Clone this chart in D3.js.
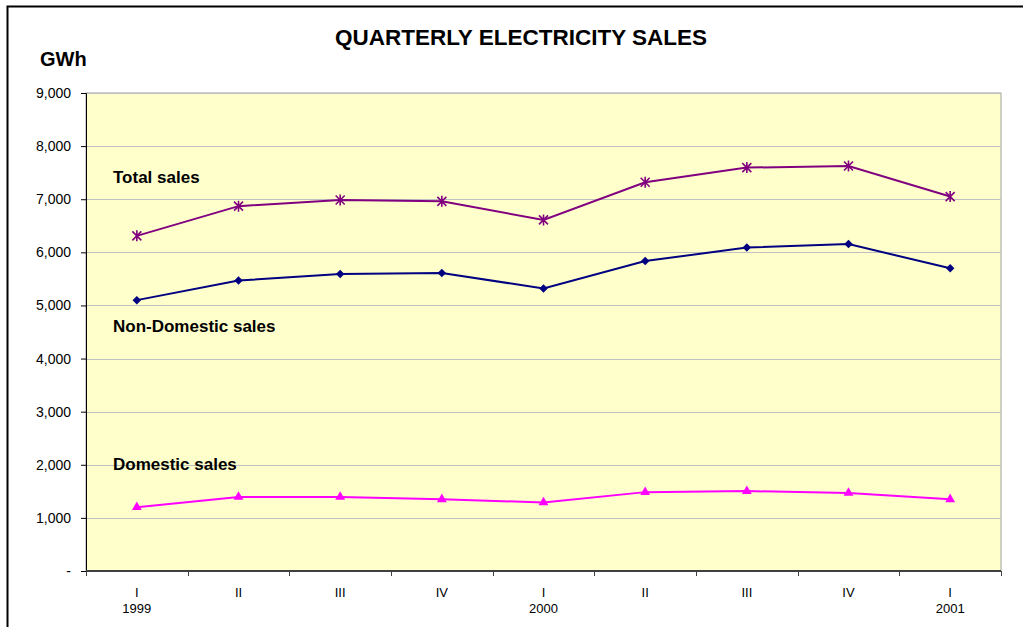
<!DOCTYPE html>
<html>
<head>
<meta charset="utf-8">
<script src="https://cdn.jsdelivr.net/npm/d3@7"></script>
<style>
  body { margin: 0; background: #fff; }
  text { font-family: Arial, "Liberation Sans", sans-serif; }
</style>
</head>
<body>
<div id="chart"></div>
<script>
// quarters 1999 Q1 .. 2001 Q1
const quarters = ['I', 'II', 'III', 'IV', 'I', 'II', 'III', 'IV', 'I'];
const years = ['1999', '', '', '', '2000', '', '', '', '2001'];
const totalSales = [6310, 6870, 6985, 6960, 6610, 7320, 7595, 7625, 7050];
const nonDomesticSales = [5100, 5470, 5590, 5610, 5320, 5835, 6090, 6155, 5700];
const domesticSales = [1200, 1395, 1395, 1350, 1290, 1485, 1505, 1470, 1350];
const yTicks = [0, 1000, 2000, 3000, 4000, 5000, 6000, 7000, 8000, 9000];

const width = 1023, height = 627;
const margin = {left: 86, top: 93, right: 22, bottom: 56};

const svg = d3.select('#chart').append('svg')
    .attr('width', width)
    .attr('height', height);

// outer frame
svg.append('path')
    .attr('d', `M7.5,${height} V6.5 H${width}`)
    .attr('fill', 'none')
    .attr('stroke', '#000')
    .attr('stroke-width', 2);

const x = d3.scaleBand()
    .domain(d3.range(quarters.length))
    .range([margin.left, width - margin.right]);
const y = d3.scaleLinear()
    .domain([0, 9000])
    .range([height - margin.bottom, margin.top]);

const x0 = x.range()[0], x1 = x.range()[1];
const y0 = y(0), y1 = y(9000);

// plot area
svg.append('rect')
    .attr('x', x0).attr('y', y1)
    .attr('width', x1 - x0).attr('height', y0 - y1)
    .attr('fill', '#ffffcc')
    .attr('stroke', '#a0a0a0');

// gridlines
svg.append('g').selectAll('line')
    .data(yTicks.filter(d => d > 0))
    .join('line')
    .attr('x1', x0).attr('x2', x1)
    .attr('y1', d => Math.round(y(d)) + 0.5)
    .attr('y2', d => Math.round(y(d)) + 0.5)
    .attr('stroke', '#c0c0c0');

// y axis
const yAxis = svg.append('g')
    .attr('transform', `translate(${x0},0)`)
    .call(d3.axisLeft(y).tickValues(yTicks).tickSize(5).tickPadding(10)
        .tickFormat(d => d === 0 ? '-' : d3.format(',')(d)));
yAxis.select('.domain').attr('stroke', '#000');
yAxis.selectAll('text').attr('font-size', 14).attr('fill', '#000');

// x axis: ticks at band boundaries
const xg = svg.append('g');
xg.append('line')
    .attr('x1', x0).attr('x2', x1)
    .attr('y1', y0).attr('y2', y0)
    .attr('stroke', '#404040').attr('stroke-width', 2);
xg.selectAll('.tk')
    .data(d3.range(quarters.length + 1))
    .join('line')
    .attr('class', 'tk')
    .attr('x1', i => Math.round(x0 + i * x.bandwidth()) + 0.5)
    .attr('x2', i => Math.round(x0 + i * x.bandwidth()) + 0.5)
    .attr('y1', y0).attr('y2', y0 + 5)
    .attr('stroke', '#404040');
xg.selectAll('.ql')
    .data(quarters)
    .join('text')
    .attr('class', 'ql')
    .attr('x', (d, i) => x(i) + x.bandwidth() / 2)
    .attr('y', y0 + 26)
    .attr('text-anchor', 'middle')
    .attr('font-size', 13)
    .text(d => d);
xg.selectAll('.yl')
    .data(years)
    .join('text')
    .attr('class', 'yl')
    .attr('x', (d, i) => x(i) + x.bandwidth() / 2)
    .attr('y', y0 + 42)
    .attr('text-anchor', 'middle')
    .attr('font-size', 13)
    .text(d => d);

const cx = i => x(i) + x.bandwidth() / 2;
const line = d3.line().x((d, i) => cx(i)).y(d => y(d));

function drawSeries(data, color, symbol) {
    const g = svg.append('g');
    g.append('path')
        .datum(data)
        .attr('d', line)
        .attr('fill', 'none')
        .attr('stroke', color)
        .attr('stroke-width', 2);
    const m = g.selectAll('path.m')
        .data(data)
        .join('path')
        .attr('class', 'm');
    if (symbol === 'star') {
        // asterisk marker: x plus vertical bar
        m.attr('d', (d, i) => {
                const px = cx(i), py = y(d), r = 4.5;
                return `M${px - r},${py - r}L${px + r},${py + r}M${px - r},${py + r}L${px + r},${py - r}` +
                    `M${px},${py - r - 1}L${px},${py + r + 1}`;
            })
            .attr('stroke', color)
            .attr('stroke-width', 1.6)
            .attr('fill', 'none');
    } else if (symbol === 'diamond') {
        m.attr('transform', (d, i) => `translate(${cx(i)},${y(d)}) rotate(45)`)
            .attr('d', d3.symbol().type(d3.symbolSquare).size(36))
            .attr('fill', color);
    } else {
        m.attr('transform', (d, i) => `translate(${cx(i)},${y(d)})`)
            .attr('d', d3.symbol().type(d3.symbolTriangle).size(42))
            .attr('fill', color);
    }
}

drawSeries(totalSales, '#800080', 'star');
drawSeries(nonDomesticSales, '#000080', 'diamond');
drawSeries(domesticSales, '#ff00ff', 'triangle');

// series labels
const labels = [
    {text: 'Total sales', v: 7400},
    {text: 'Non-Domestic sales', v: 4600},
    {text: 'Domestic sales', v: 2000}
];
svg.selectAll('.lab')
    .data(labels)
    .join('text')
    .attr('class', 'lab')
    .attr('x', 113)
    .attr('y', d => y(d.v) + 5)
    .attr('font-size', 17)
    .attr('font-weight', 'bold')
    .text(d => d.text);

// title and unit
svg.append('text')
    .attr('x', 521).attr('y', 45)
    .attr('text-anchor', 'middle')
    .attr('font-size', 22.5)
    .attr('font-weight', 'bold')
    .text('QUARTERLY ELECTRICITY SALES');
svg.append('text')
    .attr('x', 40).attr('y', 66)
    .attr('font-size', 20)
    .attr('font-weight', 'bold')
    .text('GWh');
</script>
</body>
</html>
